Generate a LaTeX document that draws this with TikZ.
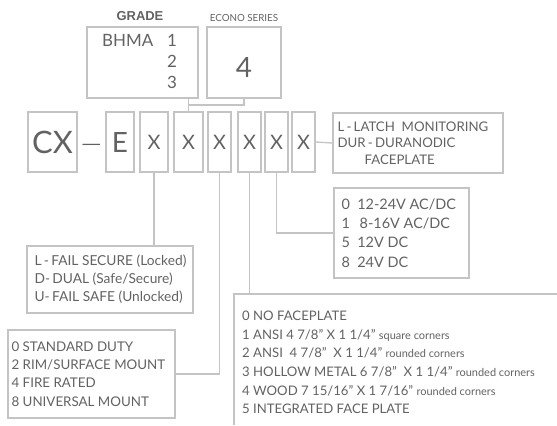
\documentclass[tikz,border=0pt]{standalone}
\usepackage{graphicx}
\usepackage{fontspec}
\setmainfont{Lato}
\newfontfamily\gradefont{Liberation Sans}
\definecolor{ln}{HTML}{C4C4C4}
\definecolor{tx}{HTML}{626262}
\begin{document}
\begin{tikzpicture}[x=1bp,y=-1bp,
  every node/.style={text=tx},
  box/.style={draw=ln, line width=1.3bp, rectangle, inner sep=0pt},
  conn/.style={draw=ln, line width=1.3bp},
  txt/.style={inner sep=0pt, align=left, anchor=west},
  code/.style={box, minimum height=60bp, font=\fontsize{20}{22}\selectfont},
]
\useasboundingbox (0,0) rectangle (557,425);

% top labels
\node[inner sep=0pt, font=\gradefont\bfseries\fontsize{13}{15}\selectfont] (grade) at (140,16) {GRADE};
\node[inner sep=0pt, font=\fontsize{9.8}{11}\selectfont] (econolbl) at (244,18) {ECONO SERIES};

% top boxes
\node[box, minimum width=111bp, minimum height=71bp] (bhma) at (142.5,62.5) {};
\node[box, minimum width=74bp, minimum height=71bp] (econo) at (244,62.5) {};
\node[txt, font=\fontsize{17}{20}\selectfont] (bhmatxt) at (102,40) {BHMA};
\node[inner sep=0pt, align=center, font=\fontsize{17}{21.5}\selectfont] (grades) at (172,61.5) {1\\2\\3};
\node[inner sep=0pt, font=\fontsize{28}{30}\selectfont] (four) at (244,67) {4};

% code row
\node[code, minimum width=49bp, font=\fontsize{31}{33}\selectfont] (cx) at (52.5,142) {CX};
\node[inner sep=0pt, font=\fontsize{19}{20}\selectfont] (dash) at (91.5,147) {\scalebox{1.4}[1]{—}};
\node[code, minimum width=28bp, font=\fontsize{28}{30}\selectfont] (e) at (120,142) {E};
\node[code, minimum width=28bp] (x1) at (154,142) {X};
\node[code, minimum width=29bp] (x2) at (188.5,142) {X};
\node[code, minimum width=23bp] (x3) at (219.5,142) {X};
\node[code, minimum width=23bp] (x4) at (249.5,142) {X};
\node[code, minimum width=23bp] (x5) at (276.5,142) {X};
\node[code, minimum width=23bp] (x6) at (303.5,142) {X};

% option boxes
\node[box, minimum width=170bp, minimum height=60bp] (latch) at (418,143) {};
\node[txt, font=\fontsize{13.3}{16.5}\selectfont] (latchtxt) at ([xshift=5bp]latch.west)
  {L\,-\,LATCH\ \ MONITORING\\DUR\,-\,DURANODIC\\\hspace*{27bp}FACEPLATE};

\node[box, minimum width=166bp, minimum height=67bp] (fail) at (110,279.5) {};
\node[txt, font=\fontsize{13.8}{18}\selectfont] (failtxt) at ([xshift=8bp]fail.west)
  {L\,-\,FAIL SECURE (Locked)\\D-\,DUAL (Safe/Secure)\\U-\,FAIL SAFE (Unlocked)};

\node[box, minimum width=135bp, minimum height=90bp] (volt) at (401.5,233) {};
\node[txt, font=\fontsize{14.5}{19.3}\selectfont] (volttxt) at ([xshift=8bp]volt.west)
  {0\ \ 12-24V AC/DC\\1\ \ \,8-16V AC/DC\\5\ \ 12V DC\\8\ \ 24V DC};

\node[box, minimum width=167bp, minimum height=88bp] (std) at (91.5,374) {};
\node[txt, font=\fontsize{13.4}{18.4}\selectfont] (stdtxt) at ([xshift=4bp]std.west)
  {0 STANDARD DUTY\\2 RIM/SURFACE MOUNT\\4 FIRE RATED\\8 UNIVERSAL MOUNT};

% faceplate box (open right and bottom)
\coordinate (fpnw) at (234,294);
\coordinate (fpne) at (557,294);
\coordinate (fpsw) at (234,425);
\draw[conn] (fpsw) -- (fpnw) -- (fpne);
\newcommand\sm[1]{{\fontsize{11}{11}\selectfont #1}}
\node[txt, font=\fontsize{13.2}{18.6}\selectfont] (fptxt) at (242,362.5)
  {0 NO FACEPLATE\\
   1 ANSI 4 7/8” X 1 1/4” \sm{square corners}\\
   2 ANSI\ \ 4 7/8”\ \ X 1 1/4” \sm{rounded corners}\\
   3 HOLLOW METAL 6 7/8”\ \ X 1 1/4” \sm{rounded corners}\\
   4 WOOD 7 15/16” X 1 7/16” \sm{rounded corners}\\
   5 INTEGRATED FACE PLATE};

% connectors
\coordinate (j) at (188.5,105);
\draw[conn] (x2.north) -- (x2.north |- bhma.south);
\draw[conn] (econo.south) |- (j);
\draw[conn] (x1.south) -- (x1.south |- fail.north);
\draw[conn] (x3.south) |- (std.east);
\draw[conn] (x4.south) -- (x4.south |- fpnw);
\draw[conn] (x5.south) |- (volt.west);
\draw[conn] (x6.east) -- (latch.west);
\end{tikzpicture}
\end{document}
